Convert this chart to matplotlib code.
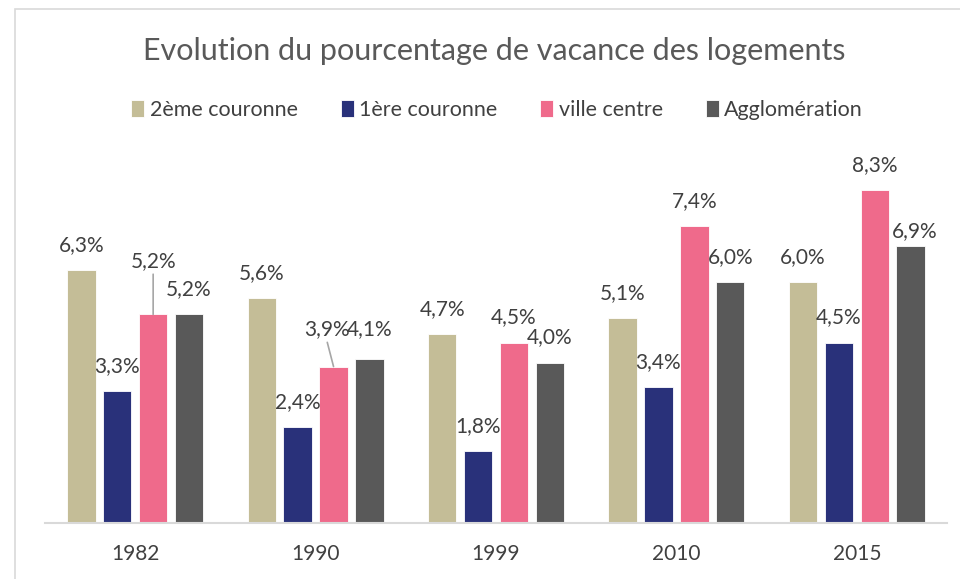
import matplotlib.pyplot as plt
from matplotlib.patches import Rectangle

plt.rcParams['font.family'] = ['Lato', 'DejaVu Sans']

# Data
years = ["1982", "1990", "1999", "2010", "2015"]
series = ["2ème couronne", "1ère couronne", "ville centre", "Agglomération"]
deuxieme = [6.3, 5.6, 4.7, 5.1, 6.0]
premiere = [3.3, 2.4, 1.8, 3.4, 4.5]
ville = [5.2, 3.9, 4.5, 7.4, 8.3]
agglo = [5.2, 4.1, 4.0, 6.0, 6.9]
values = [deuxieme, premiere, ville, agglo]

colors = ["#C4BD97", "#29317A", "#EF6A8B", "#595959"]
text_color = "#404040"

# label nudges in pixels (series index, year index) -> (dx, dy), with leader flag
label_shift = {
    (2, 0): (0, 28, True),
    (2, 1): (-7, 12, True),
    (3, 1): (0, 4, False),
    (3, 4): (4, -10, False),
}

fig = plt.figure(figsize=(9.6, 5.79), dpi=100)
W, H = 960, 579

# outer frame of the chart
fig.patches.append(Rectangle((15 / W, -0.1), 1.2, (579 - 9) / H + 0.1,
                             transform=fig.transFigure, fill=False,
                             edgecolor="#D9D9D9", linewidth=1.2))

ax = fig.add_axes([45 / W, (579 - 523) / H, 902 / W, 361 / H])
ax.set_xlim(-0.5, len(years) - 0.5)
ax.set_ylim(0, 9)

width = 0.157
pitch = 0.199
for i, (name, vals, col) in enumerate(zip(series, values, colors)):
    xs = [k + (i - 1.5) * pitch for k in range(len(years))]
    ax.bar(xs, vals, width=width, color=col, label=name,
           edgecolor="white", linewidth=0.6)
    for k, (x, v) in enumerate(zip(xs, vals)):
        dx, dy, leader = label_shift.get((i, k), (0, 0, False))
        off = (dx * 0.72, (25 + dy) * 0.72)
        props = None
        if leader:
            props = dict(arrowstyle="-", color="#A6A6A6", lw=1.2,
                         shrinkA=0, shrinkB=0, relpos=(0.5, 0.0))
        ax.annotate(f"{v:.1f}%".replace(".", ","), (x, v),
                    xytext=off, textcoords="offset points",
                    ha="center", va="center", fontsize=15,
                    color=text_color, arrowprops=props)

ax.set_xticks(range(len(years)))
ax.set_xticklabels(years, fontsize=15, color=text_color)
ax.tick_params(axis="x", length=0, pad=15)
ax.set_yticks([])
for s in ["top", "right", "left"]:
    ax.spines[s].set_visible(False)
ax.spines["bottom"].set_color("#D9D9D9")
ax.spines["bottom"].set_linewidth(1.5)

fig.text(494 / W, 1 - 51 / H, "Evolution du pourcentage de vacance des logements",
         ha="center", va="center", fontsize=22, color="#595959")

fig.legend(loc="center", bbox_to_anchor=(497 / W, 1 - 110 / H), ncol=4,
           frameon=False, fontsize=15.5, handlelength=0.6, handleheight=0.8,
           handletextpad=0.25, columnspacing=2.0, labelcolor=text_color)

fig.savefig("out.png", dpi=100)
